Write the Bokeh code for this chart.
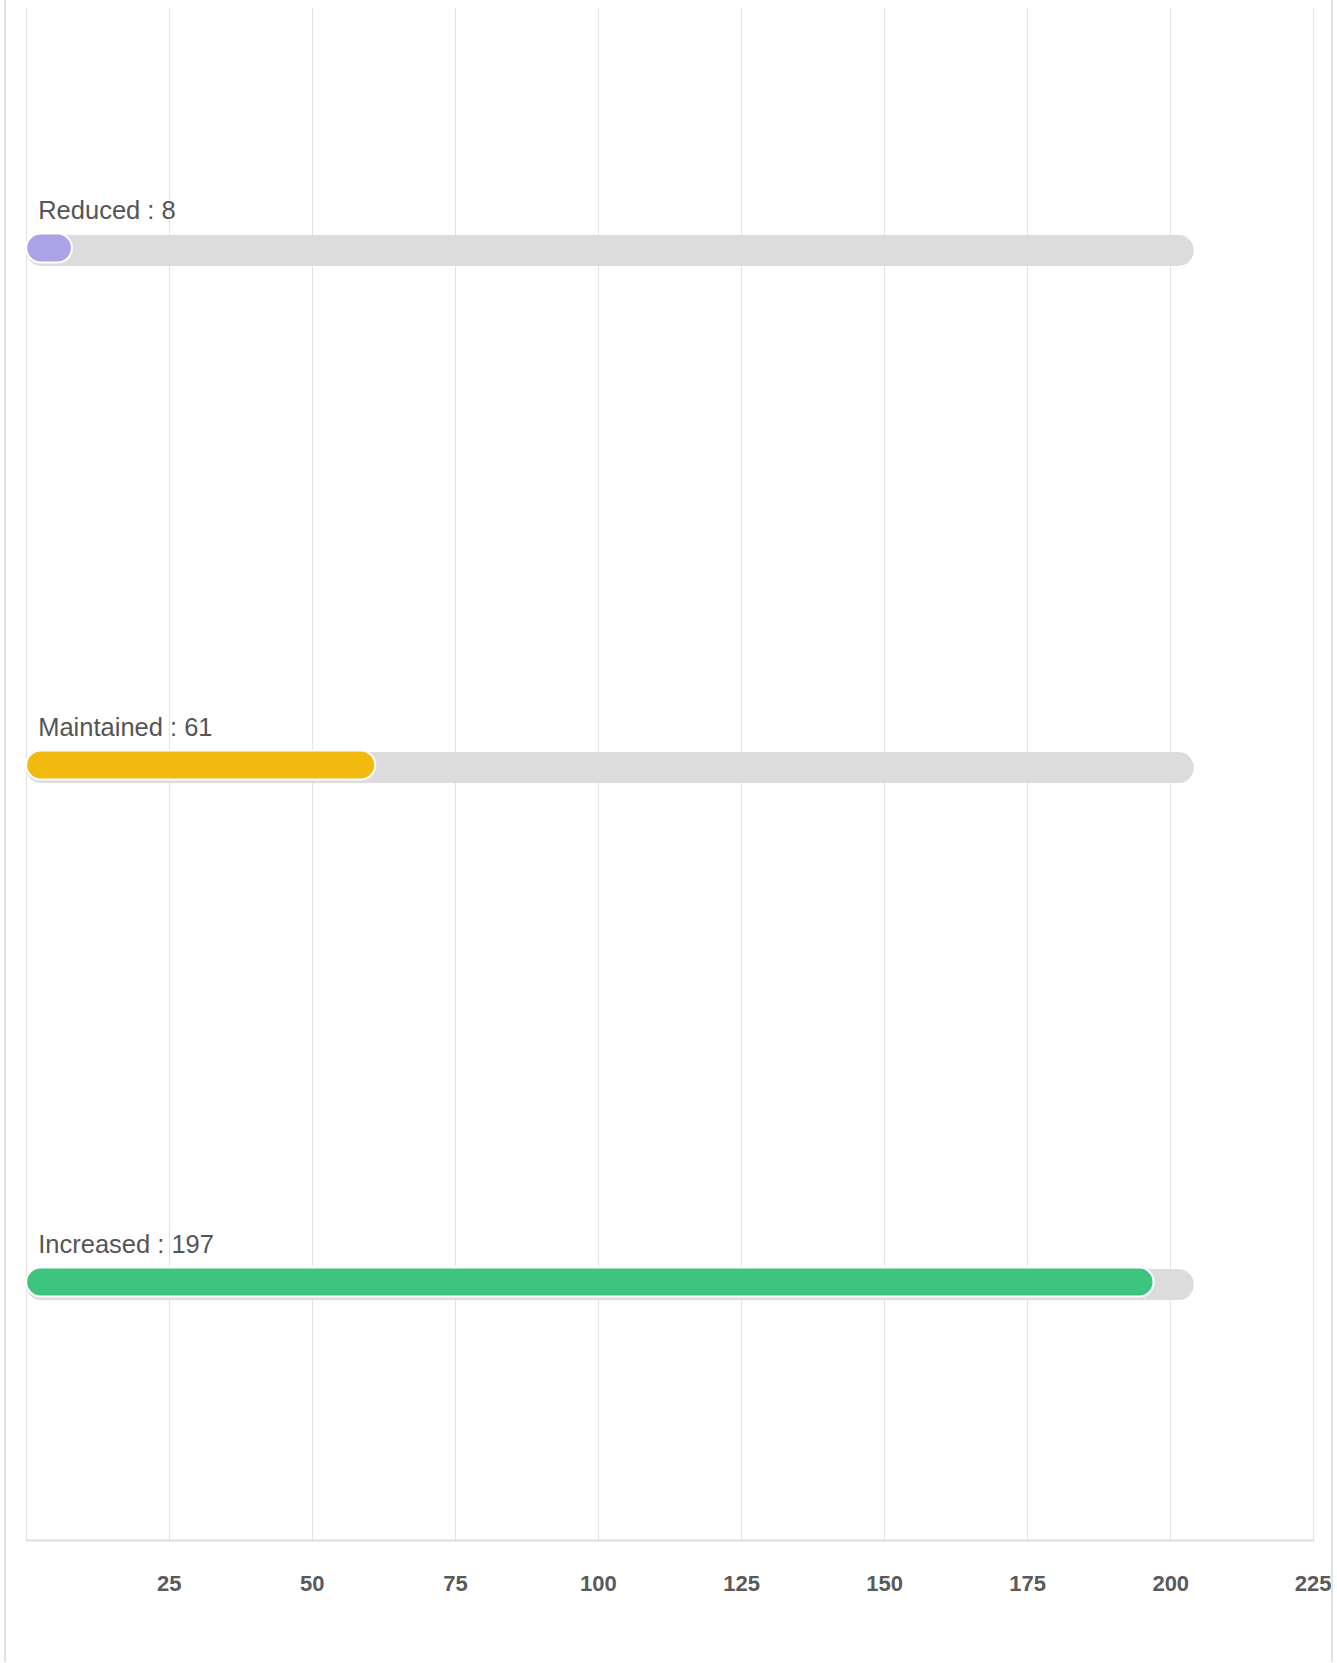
from bokeh.plotting import figure
from bokeh.models import ColumnDataSource, Range1d, FixedTicker
from bokeh.core.properties import value
from bokeh.embed import file_html
from bokeh.resources import INLINE

# ---- data ----
categories = ["Reduced", "Maintained", "Increased"]
counts = [8, 61, 197]
bar_colors = ["#ACA3E6", "#F2B90F", "#3DC47E"]
track_total = 204
tick_values = [0, 25, 50, 75, 100, 125, 150, 175, 200, 225]

n = len(categories)
ypos = [n - 1 - i for i in range(n)]
labels = [f"{c} : {v}" for c, v in zip(categories, counts)]

src = ColumnDataSource(dict(
    y=ypos,
    ybar=[y + 0.0048 for y in ypos],
    val=counts,
    color=bar_colors,
    track=[track_total] * n,
    label=labels,
    zero=[0] * n,
))

p = figure(
    width=1329, height=1662,
    x_range=Range1d(-0.12, 225.12),
    y_range=Range1d(-0.495, 2.470),
    output_backend="svg", toolbar_location=None,
    min_border_left=19, min_border_right=21, min_border_top=7, min_border_bottom=122,
)
p.styles = {"margin-left": "4px", "border-left": "2px solid #E2E2E2",
            "border-right": "2px solid #E2E2E2"}
p.outline_line_color = None
p.background_fill_color = "white"
p.border_fill_color = "white"

# background tracks
p.hbar(y="y", left="zero", right="track", height=0.06, source=src,
       fill_color="#DCDCDC", line_color=None, border_radius=15)
# value bars
p.hbar(y="ybar", left="zero", right="val", height=0.056, source=src,
       fill_color="color", line_color="white", line_width=2, border_radius=15)

# category labels
p.text(x="zero", y="y", text="label", source=src, x_offset=12, y_offset=-41,
       text_font=value("Liberation Sans"), text_font_size="25.5px",
       text_color="#555555", text_baseline="alphabetic", text_align="left")

# axes / grid
p.yaxis.visible = False
p.ygrid.visible = False
p.xaxis.ticker = FixedTicker(ticks=tick_values)
p.xaxis.major_label_overrides = {0: ""}
p.xaxis.axis_line_color = "#DDDDDD"
p.xaxis.axis_line_width = 2
p.xaxis.major_tick_line_color = None
p.xaxis.minor_tick_line_color = None
p.xaxis.major_tick_out = 0
p.xaxis.major_tick_in = 0
p.xaxis.major_label_standoff = 35
p.xaxis.major_label_text_font = "Liberation Sans"
p.xaxis.major_label_text_font_style = "bold"
p.xaxis.major_label_text_font_size = "22px"
p.xaxis.major_label_text_color = "#5A5A5A"
p.xgrid.ticker = FixedTicker(ticks=tick_values)
p.xgrid.grid_line_color = "#E3E3E3"
p.xgrid.grid_line_width = 1

open("out.html", "w").write(file_html(p, INLINE))
